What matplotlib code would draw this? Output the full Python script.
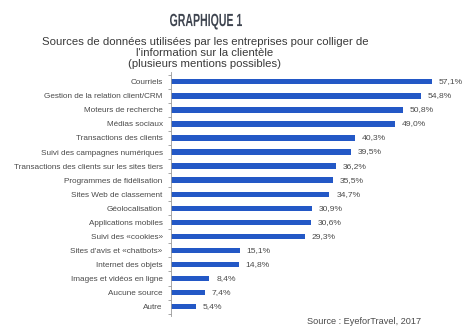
import numpy as np
import matplotlib.pyplot as plt
from matplotlib.textpath import TextPath
from matplotlib.patches import PathPatch
from matplotlib.font_manager import FontProperties
from matplotlib.transforms import Affine2D, IdentityTransform

categories = [
    "Courriels",
    "Gestion de la relation client/CRM",
    "Moteurs de recherche",
    "Médias sociaux",
    "Transactions des clients",
    "Suivi des campagnes numériques",
    "Transactions des clients sur les sites tiers",
    "Programmes de fidélisation",
    "Sites Web de classement",
    "Géolocalisation",
    "Applications mobiles",
    "Suivi des «cookies»",
    "Sites d'avis et «chatbots»",
    "Internet des objets",
    "Images et vidéos en ligne",
    "Aucune source",
    "Autre",
]
values = [57.1, 54.8, 50.8, 49.0, 40.3, 39.5, 36.2, 35.5, 34.7,
          30.9, 30.6, 29.3, 15.1, 14.8, 8.4, 7.4, 5.4]

bar_color = "#2358c6"
text_color = "#4a4a4a"

fig = plt.figure(figsize=(4.74, 3.30), dpi=100)
ax = fig.add_axes([171 / 474, 0.041, 283 / 474, 0.741])

y = np.arange(len(categories))
ax.barh(y, values, height=0.38, color=bar_color)

for yi, v in zip(y, values):
    ax.text(v + 1.5, yi, f"{v:.1f}%".replace(".", ","), va="center",
            ha="left", fontsize=6.1, color=text_color, family="Liberation Sans")

ax.set_xlim(0, 62)
ax.set_ylim(16.7, -0.7)
ax.set_yticks(y)
ax.set_yticklabels(categories, fontsize=5.85, color=text_color,
                   family="Liberation Sans")
ax.set_yticks(np.arange(-0.5, len(categories), 1), minor=True)
ax.tick_params(axis="y", which="major", length=0, pad=6)
ax.tick_params(axis="y", which="minor", length=2, color="#999999", width=0.6)
ax.set_xticks([])
for side in ["top", "right", "bottom"]:
    ax.spines[side].set_visible(False)
ax.spines["left"].set_color("#999999")
ax.spines["left"].set_linewidth(0.6)

# condensed bold heading: squeeze the glyph outlines horizontally
title_path = TextPath((0, 0), "GRAPHIQUE 1", size=1,
                      prop=FontProperties(family="Liberation Sans", weight="bold"))
ext = title_path.get_extents()
em = 17.7
title_tf = (Affine2D()
            .translate(-(ext.x0 + ext.width / 2), -0.36)
            .scale(72 / ext.width, em)
            .translate(206, 330 - 19.7))
fig.add_artist(PathPatch(title_tf.transform_path(title_path),
                         transform=IdentityTransform(),
                         facecolor="#3f4550", edgecolor="none"))

fig.text(205 / 474, 1 - 53 / 330,
         "Sources de données utilisées par les entreprises pour colliger de\n"
         "l'information sur la clientèle\n(plusieurs mentions possibles)",
         ha="center", va="center", fontsize=8.2, color="#3a3a3a",
         family="Liberation Sans", linespacing=1.15)
fig.text(364 / 474, 1 - 322 / 330, "Source : EyeforTravel, 2017",
         ha="center", va="center", fontsize=6.6, color=text_color,
         family="Liberation Sans")

fig.savefig("out.png", dpi=100)
